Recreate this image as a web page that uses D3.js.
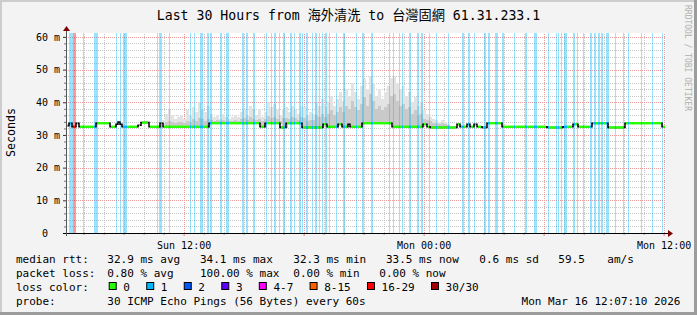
<!DOCTYPE html>
<html><head><meta charset="utf-8">
<script src="https://cdn.jsdelivr.net/npm/d3@7"></script>
<style>
body{margin:0;background:#fff}
svg text{font-family:"DejaVu Sans Mono",monospace;white-space:pre}
</style></head><body>
<svg id="c" width="697" height="315"></svg>
<script>
// ---------- data ----------
const title = "Last 30 Hours from 海外清洗 to 台灣固網 61.31.233.1";
const yLabel = "Seconds";
const sideText = "RRDTOOL / TOBI OETIKER";
const endTime = "2026-03-16T12:07:10";
const spanHours = 30;
const stepSeconds = 180;           // one sample = 3 minutes
const yMax = 61.2;                 // ms
const yTicks = [0, 10, 20, 30, 40, 50, 60];
const yTickLabels = [" 0", "10 m", "20 m", "30 m", "40 m", "50 m", "60 m"];
const xTickTimes = ["2026-03-15T12:00:00", "2026-03-16T00:00:00", "2026-03-16T12:00:00"];
const xTickLabels = ["Sun 12:00", "Mon 00:00", "Mon 12:00"];

// median rtt (ms) as step changes: sample index where the level starts
const medianStep = [0,3,6,10,13,30,44,50,52,54,56,72,75,83,94,97,143,194,199,214,220,236,257,261,272,276,282,284,296,326,357,361,364,391,394,401,404,408,411,416,421,436,481,497,507,512,526,542,559,596];
const medianValue = [32.8,33.6,32.5,33.6,32.5,33.6,32.5,33.3,34.0,33.3,32.5,33.0,33.8,32.5,33.6,32.5,33.6,32.5,33.6,32.3,33.6,32.3,33.3,32.5,33.3,32.5,33.3,32.5,33.6,32.5,33.3,32.5,32.3,33.3,32.5,33.3,32.5,33.3,32.5,32.3,33.6,32.5,32.3,32.5,33.3,32.5,33.6,32.3,33.6,32.5];
const medianEndStep = 600;

// packet loss events: start sample, number of samples, lost pings (of 30)
const lossStart = [3,7,17,28,50,54,57,91,93,103,124,128,134,141,144,154,160,176,180,187,200,205,208,213,217,224,228,233,236,240,246,249,253,256,259,263,270,277,290,296,305,323,327,333,336,343,351,355,363,370,382,396,402,408,418,422,429,436,448,459,468,482,490,492,495,498,507,511,517,524,528,532,535,540,549,557,562,575,586,596];
const lossLen = [4,3,1,4,1,1,4,1,3,1,1,1,3,2,2,2,3,2,2,2,1,1,2,1,2,2,1,2,1,2,1,2,1,1,2,1,1,2,1,2,2,1,1,1,1,2,2,2,1,1,1,2,2,1,2,2,3,2,1,2,3,1,1,1,1,3,2,1,1,2,2,2,2,3,1,1,1,1,1,1];
const lossCount = [1,20,1,1,1,1,1,1,1,1,1,1,1,1,1,1,1,1,1,1,1,1,1,1,1,1,1,1,1,1,1,1,1,1,1,1,1,1,1,1,1,1,1,1,1,1,1,1,1,1,1,1,1,1,1,1,1,1,1,1,1,1,1,1,1,1,1,1,1,1,1,1,1,1,1,1,1,1,1,1];

// smoke (ping spread), one value per 3 samples starting at smokeFirstStep
const smokeFirstStep = 93;
const smokeGroup = 3;
const smokeTop = [33,34.5,36.5,37.5,36,35,35.5,36,35,37.5,36,38.5,37,40,38,37,39,36.5,35.5,36,35,36.5,35.5,35,35.5,36,35.5,37,38,36,39,37.5,36,38,35.5,37,40,38.5,39.5,37.5,36,38,38.5,37,39,37.5,36.5,39,38.5,36,37,36.5,40,39,41,38.5,40,42,39,41,43,40.5,44,42,46,43,41,45,47,44,48,46,42,44,41,43,45,47.5,48,46,44,45,42,43,40,41.5,39,40,37.5,36.5,35.5,35,34.5,34,34.5,34,33.5];
const smokeMid = [33,33.6,34,34.4,34,33.8,34,34,33.8,34.4,34,34.8,34.4,35.2,34.8,34.4,34.8,34.6,34.4,34.6,34.4,34.6,34.4,34.4,34.4,34.6,34.4,34.8,35.2,34.6,35.4,35,34.6,35,34.4,34.8,35.8,35.2,35.6,34.8,34.4,35.2,35.2,34.8,35.6,35.2,34.6,35.6,35.2,34.2,34.6,34.6,36,35.6,36.5,35.6,36.5,37.5,36,37,38.5,37,39,38,40.5,38.5,37.5,39.5,41.5,39,42.5,40.5,38,39,37.5,38.5,39.5,42,42.5,40.5,39,39.5,38,38.5,36.5,37.5,36,36.5,35,34.6,34.2,33.8,33.6,33.4,33.6,33.4,33.2];

// legend
const lossColorLabels = ["0","1","2","3","4-7","8-15","16-29","30/30"];
const lossColorValues = ["#26ff00","#00b8ff","#0059ff","#5e00ff","#ff00ff","#ff5e00","#ff0000","#a10000"];
const lossClassMax = [0,1,2,3,7,15,29,30];
const rttRow = ["median rtt:","32.9 ms avg","34.1 ms max","32.3 ms min","33.5 ms now","0.6 ms sd","59.5","am/s"];
const lossRow = ["packet loss:","0.80 % avg","100.00 % max","0.00 % min","0.00 % now"];
const probeRow = ["probe:","30 ICMP Echo Pings (56 Bytes) every 60s"];
const stampText = "Mon Mar 16 12:07:10 2026";
const lossColorTitle = "loss color:";

// ---------- layout ----------
const W = 697, H = 315;
const P = {left: 66, right: 666, top: 33, bottom: 233};
const rttCols = [16,107.3,200,293.3,386,479.3,558.3,607.3];
const lossCols = [16,107.3,200,293.3,379.3];
const rowY = [263.3, 277.3, 291.3, 305.2];

const svg = d3.select("#c");
const end = new Date(endTime);
const start = new Date(+end - spanHours * 3600e3);
const x = d3.scaleTime().domain([start, end]).range([P.left, P.right]);
const y = d3.scaleLinear().domain([0, yMax]).range([P.bottom, P.top]);
const stepDate = i => new Date(+start + i * stepSeconds * 1000);
const xs = i => Math.round(x(stepDate(i)));

function lossColor(n) {
  for (let i = 0; i < lossClassMax.length; i++) if (n <= lossClassMax[i]) return lossColorValues[i];
  return lossColorValues[lossColorValues.length - 1];
}
function medianAt(s) {
  let v = medianValue[0];
  for (let i = 0; i < medianStep.length; i++) if (medianStep[i] <= s) v = medianValue[i];
  return v;
}
function lossAt(s) {
  for (let i = 0; i < lossStart.length; i++) if (s >= lossStart[i] && s < lossStart[i] + lossLen[i]) return lossCount[i];
  return 0;
}

// background & frame
svg.append("rect").attr("width", W).attr("height", H).attr("fill", "#f3f3f3");
svg.append("rect").attr("x", 0).attr("y", 0).attr("width", W).attr("height", 2).attr("fill", "#cdcdcd");
svg.append("rect").attr("x", 0).attr("y", 0).attr("width", 2).attr("height", H).attr("fill", "#cdcdcd");
svg.append("rect").attr("x", 0).attr("y", H - 3).attr("width", W).attr("height", 3).attr("fill", "#9c9c9c");
svg.append("rect").attr("x", W - 3).attr("y", 0).attr("width", 3).attr("height", H).attr("fill", "#9c9c9c");
svg.append("rect").attr("x", P.left).attr("y", P.top).attr("width", P.right - P.left).attr("height", P.bottom - P.top).attr("fill", "#fff");

// grids
const allHours = d3.timeHour.every(1).range(start, end);
const minorHours = allHours.filter(d => d.getHours() % 6 !== 0);
const majorHours = allHours.filter(d => d.getHours() % 6 === 0);
const minorY = d3.range(2, 62, 2).filter(v => v % 10 !== 0 && v <= yMax);
const majorY = yTicks.filter(v => v > 0);

function grid(axis, cls, color) {
  const g = svg.append("g").attr("class", cls);
  g.call(axis);
  g.select(".domain").remove();
  g.selectAll("line").attr("stroke", color).attr("stroke-dasharray", "1,1").attr("shape-rendering", "crispEdges");
  return g;
}
const gh = P.bottom - P.top, gw = P.right - P.left;
grid(d3.axisBottom(x).tickValues(minorHours).tickSize(-gh).tickFormat(""), "gx", "#c8c8c8").attr("transform", `translate(0,${P.bottom})`);
grid(d3.axisLeft(y).tickValues(minorY).tickSize(-gw).tickFormat(""), "gy", "#c8c8c8").attr("transform", `translate(${P.left},0)`);
grid(d3.axisBottom(x).tickValues(majorHours).tickSize(-gh).tickFormat(""), "gX", "#eb9a9a").attr("transform", `translate(0,${P.bottom})`);
grid(d3.axisLeft(y).tickValues(majorY).tickSize(-gw).tickFormat(""), "gY", "#eb9a9a").attr("transform", `translate(${P.left},0)`);

// smoke
const smoke = svg.append("g").attr("shape-rendering", "crispEdges");
smokeTop.forEach((t, i) => {
  const s0 = smokeFirstStep + i * smokeGroup, s1 = s0 + smokeGroup;
  const m = medianAt(s0);
  if (t > m) smoke.append("rect").attr("x", xs(s0)).attr("width", xs(s1) - xs(s0))
    .attr("y", y(t)).attr("height", y(m - 0.3) - y(t)).attr("fill", "#e3e3e3");
  const md = smokeMid[i];
  if (md > m) smoke.append("rect").attr("x", xs(s0)).attr("width", xs(s1) - xs(s0))
    .attr("y", y(md)).attr("height", y(m - 0.3) - y(md)).attr("fill", "#c9c9c9");
});

// loss bars
svg.append("g").attr("shape-rendering", "crispEdges").selectAll("rect").data(lossStart).join("rect")
  .attr("x", (d) => xs(d))
  .attr("width", (d, i) => xs(d + lossLen[i]) - xs(d))
  .attr("y", P.top).attr("height", P.bottom - P.top)
  .attr("fill", (d, i) => lossColor(lossCount[i]))
  .attr("fill-opacity", 0.4);

// median line: black step path underneath
const pts = medianStep.map((s, i) => [s, medianValue[i]]);
pts.push([medianEndStep - 1, medianValue[medianValue.length - 1]]);
svg.append("path").datum(pts)
  .attr("d", d3.line().x(d => xs(d[0])).y(d => y(d[1])).curve(d3.curveStepAfter))
  .attr("fill", "none").attr("stroke", "#000").attr("stroke-width", 1.5);

// coloured runs
const runs = [];
for (let k = 0; k < medianEndStep - 1; k++) {
  const v = medianAt(k), c = lossColor(lossAt(k));
  const last = runs[runs.length - 1];
  if (last && last.v === v && last.c === c) last.k1 = k + 1;
  else runs.push({k0: k, k1: k + 1, v, c});
}
const changeSet = new Set(medianStep.slice(1));
svg.append("g").selectAll("line").data(runs).join("line")
  .attr("x1", d => xs(d.k0) + (changeSet.has(d.k0) ? 1 : 0))
  .attr("x2", d => xs(d.k1) - (changeSet.has(d.k1) ? 1 : 0))
  .attr("y1", d => y(d.v)).attr("y2", d => y(d.v))
  .attr("stroke", d => d.c).attr("stroke-width", 2.4);

// axes
const axisCol = "#333";
const yt = svg.append("g").attr("transform", `translate(${P.left},0)`)
  .call(d3.axisLeft(y).tickValues(yTicks).tickSize(3).tickFormat((d, i) => yTickLabels[i]));
yt.select(".domain").remove();
yt.selectAll("line").attr("stroke", axisCol);
yt.selectAll("text").attr("font-size", 10).attr("font-family", "DejaVu Sans Mono")
  .attr("text-anchor", "start").attr("x", 36 - P.left).attr("dy", "0.33em").attr("fill", "#000");
const ytm = svg.append("g").attr("transform", `translate(${P.left},0)`)
  .call(d3.axisLeft(y).tickValues(minorY).tickSize(2).tickFormat(""));
ytm.select(".domain").remove();
ytm.selectAll("line").attr("stroke", "#777");

const xt = svg.append("g").attr("transform", `translate(0,${P.bottom})`)
  .call(d3.axisBottom(x).tickValues(xTickTimes.map(t => new Date(t))).tickSize(0).tickPadding(9)
    .tickFormat((d, i) => xTickLabels[i]));
xt.select(".domain").remove();
xt.selectAll("text").attr("font-size", 10).attr("font-family", "DejaVu Sans Mono").attr("fill", "#000");
const xtm = svg.append("g").attr("transform", `translate(0,${P.bottom})`)
  .call(d3.axisBottom(x).tickValues(minorHours).tickSize(2).tickFormat(""));
xtm.select(".domain").remove();
xtm.selectAll("line").attr("stroke", "#999");
const xtM = svg.append("g").attr("transform", `translate(0,${P.bottom})`)
  .call(d3.axisBottom(x).tickValues(majorHours).tickSize(3).tickFormat(""));
xtM.select(".domain").remove();
xtM.selectAll("line").attr("stroke", "#e08080");

// axis lines + arrows
svg.append("line").attr("x1", P.left - 3).attr("x2", P.right + 3).attr("y1", P.bottom + 0.5).attr("y2", P.bottom + 0.5)
  .attr("stroke", "#000").attr("stroke-width", 1);
svg.append("line").attr("x1", P.left + 0.5).attr("x2", P.left + 0.5).attr("y1", P.bottom + 3).attr("y2", P.top - 3)
  .attr("stroke", "#555").attr("stroke-width", 1);
svg.append("path").attr("d", `M${P.right + 2},${P.bottom - 3}L${P.right + 7},${P.bottom + 0.5}L${P.right + 2},${P.bottom + 4}Z`).attr("fill", "#7f0000");
svg.append("path").attr("d", `M${P.left - 3},${P.top - 2}L${P.left + 0.5},${P.top - 7}L${P.left + 4},${P.top - 2}Z`).attr("fill", "#7f0000");

// title & labels
svg.append("text").attr("x", 348.5).attr("y", 19.5).attr("text-anchor", "middle")
  .attr("font-size", 13.2).attr("fill", "#000")
  .style("font-family", '"DejaVu Sans Mono","Noto Sans CJK SC",monospace').text(title);
svg.append("text").attr("transform", "translate(15,132.5) rotate(-90)").attr("text-anchor", "middle")
  .attr("font-size", 11.6).attr("fill", "#000").text(yLabel);
svg.append("text").attr("transform", "translate(685,5) rotate(90)").attr("text-anchor", "start")
  .attr("font-size", 8).attr("fill", "#b0b0b0").text(sideText);

// legend rows
const leg = svg.append("g").attr("font-size", 11).attr("fill", "#000");
rttRow.forEach((t, i) => leg.append("text").attr("x", rttCols[i]).attr("y", rowY[0]).text(t));
lossRow.forEach((t, i) => leg.append("text").attr("x", lossCols[i]).attr("y", rowY[1]).text(t));
leg.append("text").attr("x", 16).attr("y", rowY[2]).text(lossColorTitle);
let lx = 108.7;
lossColorLabels.forEach((lab, i) => {
  leg.append("rect").attr("x", lx + 0.5).attr("y", 282.5).attr("width", 7).attr("height", 7)
    .attr("fill", lossColorValues[i]).attr("stroke", "#000").attr("stroke-width", 1);
  const t = leg.append("text").attr("x", lx + 14.6).attr("y", rowY[2]).text(lab);
  lx = lx + 14.6 + t.node().getComputedTextLength() + 16.3;
});
leg.append("text").attr("x", 16).attr("y", rowY[3]).text(probeRow[0]);
leg.append("text").attr("x", 107.3).attr("y", rowY[3]).text(probeRow[1]);
leg.append("text").attr("x", 680.5).attr("y", rowY[3]).attr("text-anchor", "end").text(stampText);
</script>
</body></html>
